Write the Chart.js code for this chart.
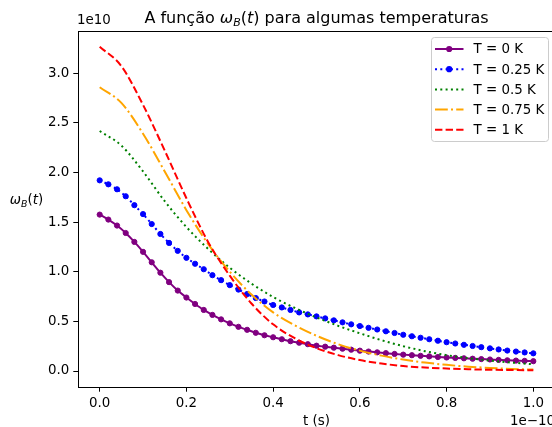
<!DOCTYPE html>
<html>
<head>
<meta charset="utf-8">
<script src="https://cdn.jsdelivr.net/npm/chart.js@4/dist/chart.umd.min.js"></script>
<style>
  html, body { margin: 0; padding: 0; background: #fff; overflow: hidden; }
  #wrap { width: 552px; height: 427px; overflow: hidden; position: relative; }
  canvas { position: absolute; left: 0; top: 0; }
</style>
</head>
<body>
<div id="wrap"><canvas id="chart" width="560" height="427"></canvas></div>
<script>
// --- data (t in units of 1e-10 s, omega in units of 1e10) ---
const tFine = [0, 0.02, 0.04, 0.06, 0.08, 0.10, 0.12, 0.14, 0.16, 0.18,
  0.20, 0.22, 0.24, 0.26, 0.28, 0.30, 0.32, 0.34, 0.36, 0.38,
  0.40, 0.42, 0.44, 0.46, 0.48, 0.50, 0.52, 0.54, 0.56, 0.58,
  0.60, 0.62, 0.64, 0.66, 0.68, 0.70, 0.72, 0.74, 0.76, 0.78,
  0.80, 0.82, 0.84, 0.86, 0.88, 0.90, 0.92, 0.94, 0.96, 0.98, 1.00];
const tCoarse = [0, 0.05, 0.10, 0.15, 0.20, 0.25, 0.30, 0.35, 0.40, 0.45, 0.50,
  0.55, 0.60, 0.65, 0.70, 0.75, 0.80, 0.85, 0.90, 0.95, 1.00];

const omegaT0 = [1.575, 1.525, 1.465, 1.39, 1.30, 1.20, 1.095, 0.99, 0.895, 0.81,
  0.74, 0.675, 0.615, 0.565, 0.52, 0.48, 0.445, 0.415, 0.385, 0.36,
  0.34, 0.32, 0.30, 0.285, 0.27, 0.255, 0.245, 0.235, 0.225, 0.215,
  0.205, 0.196, 0.188, 0.18, 0.172, 0.165, 0.159, 0.153, 0.147, 0.141,
  0.136, 0.132, 0.128, 0.124, 0.12, 0.116, 0.112, 0.108, 0.105, 0.102, 0.099];
const omegaT025 = [1.92, 1.88, 1.83, 1.76, 1.67, 1.58, 1.48, 1.38, 1.29, 1.21,
  1.14, 1.08, 1.025, 0.965, 0.915, 0.865, 0.82, 0.775, 0.735, 0.70,
  0.665, 0.64, 0.615, 0.59, 0.57, 0.55, 0.53, 0.51, 0.49, 0.47,
  0.453, 0.435, 0.418, 0.40, 0.383, 0.365, 0.35, 0.335, 0.32, 0.305,
  0.29, 0.277, 0.264, 0.252, 0.24, 0.228, 0.217, 0.206, 0.196, 0.187, 0.178];
const omegaT05 = [2.417, 2.27, 2.01, 1.71, 1.45, 1.23, 1.04, 0.88, 0.745, 0.635, 0.54,
  0.455, 0.38, 0.31, 0.25, 0.20, 0.16, 0.13, 0.105, 0.085, 0.068];
const omegaT075 = [2.857, 2.70, 2.39, 2.01, 1.62, 1.28, 1.00, 0.77, 0.59, 0.46, 0.355,
  0.27, 0.205, 0.155, 0.115, 0.085, 0.062, 0.044, 0.031, 0.021, 0.014];
const omegaT1 = [3.266, 3.07, 2.68, 2.22, 1.74, 1.30, 0.96, 0.68, 0.47, 0.33, 0.23,
  0.16, 0.11, 0.075, 0.05, 0.035, 0.025, 0.018, 0.013, 0.01, 0.008];

const seriesLabels = ['T = 0 K', 'T = 0.25 K', 'T = 0.5 K', 'T = 0.75 K', 'T = 1 K'];
const xTicks = [0, 0.2, 0.4, 0.6, 0.8, 1.0];
const yTicks = [0, 0.5, 1.0, 1.5, 2.0, 2.5, 3.0];

const FONT = '"DejaVu Sans", sans-serif';
const LW = 2;

function pts(xs, ys) { return xs.map((x, i) => ({ x: x, y: ys[i] })); }

const datasets = [
  { label: seriesLabels[0], data: pts(tFine, omegaT0), borderColor: 'purple',
    borderDash: [], pointRadius: 2.6, order: 4 },
  { label: seriesLabels[1], data: pts(tFine, omegaT025), borderColor: 'blue',
    borderDash: [2, 3.3], pointRadius: 2.6, order: 3 },
  { label: seriesLabels[2], data: pts(tCoarse, omegaT05), borderColor: 'green',
    borderDash: [2, 3.3], pointRadius: 0, order: 2 },
  { label: seriesLabels[3], data: pts(tCoarse, omegaT075), borderColor: 'orange',
    borderDash: [12.8, 3.2, 2, 3.2], pointRadius: 0, order: 1 },
  { label: seriesLabels[4], data: pts(tCoarse, omegaT1), borderColor: 'red',
    borderDash: [7.4, 3.2], pointRadius: 0, order: 0 }
];
datasets.forEach(d => {
  d.borderWidth = LW;
  d.backgroundColor = d.borderColor;
  d.pointBorderWidth = 1;
  d.pointBorderColor = d.borderColor;
  d.pointBackgroundColor = d.borderColor;
  d.cubicInterpolationMode = 'monotone';
  d.fill = false;
});

// draw a run of text pieces (for the mathtext bits)
function richText(ctx, parts, x, y, align) {
  let w = 0;
  parts.forEach(p => { ctx.font = p.font; w += ctx.measureText(p.text).width; });
  let cx = align === 'center' ? x - w / 2 : (align === 'right' ? x - w : x);
  parts.forEach(p => {
    ctx.font = p.font;
    ctx.fillText(p.text, cx, y + (p.dy || 0));
    cx += ctx.measureText(p.text).width;
  });
}

const decor = {
  id: 'decor',
  afterDraw(chart) {
    const ctx = chart.ctx, a = chart.chartArea;
    ctx.save();
    // axes frame
    ctx.strokeStyle = '#000';
    ctx.lineWidth = 1;
    ctx.setLineDash([]);
    ctx.strokeRect(a.left + 0.5, a.top + 0.5, a.right - a.left, a.bottom - a.top);

    ctx.fillStyle = '#000';
    ctx.textBaseline = 'alphabetic';
    // title
    const f16 = '16px ' + FONT, i16 = 'italic 16px ' + FONT, i11 = 'italic 11px ' + FONT;
    richText(ctx, [
      { text: 'A função ', font: f16 },
      { text: 'ω', font: i16 },
      { text: 'B', font: i11, dy: 3 },
      { text: '(', font: f16 },
      { text: 't', font: i16 },
      { text: ') para algumas temperaturas', font: f16 }
    ], (a.left + a.right) / 2, 23, 'center');

    // y label (horizontal)
    const f13 = '13.4px ' + FONT, i13 = 'italic 13.4px ' + FONT, i9 = 'italic 9.4px ' + FONT;
    richText(ctx, [
      { text: 'ω', font: i13 },
      { text: 'B', font: i9, dy: 3 },
      { text: '(', font: f13 },
      { text: 't', font: i13 },
      { text: ')', font: f13 }
    ], 26.5, 204, 'center');

    // x label and offset texts
    ctx.font = f13;
    ctx.textAlign = 'center';
    ctx.fillText('t (s)', (a.left + a.right) / 2, 425);
    ctx.textAlign = 'left';
    ctx.fillText('1e10', a.left - 1, 24);
    ctx.textAlign = 'right';
    ctx.fillText('1e\u221210', a.right, 425);

    // legend
    const lx = 431.5, ly = 37.5, lw = 117, lh = 104;
    ctx.beginPath();
    ctx.roundRect(lx, ly, lw, lh, 3);
    ctx.fillStyle = 'rgba(255,255,255,0.8)';
    ctx.fill();
    ctx.strokeStyle = '#cccccc';
    ctx.lineWidth = 1;
    ctx.stroke();
    ctx.textAlign = 'left';
    ctx.textBaseline = 'middle';
    chart.data.datasets.forEach((d, i) => {
      const yy = 49 + i * 20.2;
      ctx.strokeStyle = d.borderColor;
      ctx.lineWidth = LW;
      ctx.setLineDash(d.borderDash);
      ctx.beginPath();
      ctx.moveTo(435, yy);
      ctx.lineTo(463.5, yy);
      ctx.stroke();
      ctx.setLineDash([]);
      if (d.pointRadius > 0) {
        ctx.beginPath();
        ctx.arc(449.2, yy, d.pointRadius + 0.5, 0, Math.PI * 2);
        ctx.fillStyle = d.borderColor;
        ctx.fill();
      }
      ctx.fillStyle = '#000';
      ctx.font = f13;
      ctx.fillText(d.label, 473.5, yy + 1);
    });
    ctx.restore();
  }
};

new Chart(document.getElementById('chart'), {
  type: 'line',
  data: { datasets: datasets },
  options: {
    responsive: false,
    animation: false,
    devicePixelRatio: 1,
    layout: { padding: { top: 31, right: 4, left: 0, bottom: 0 } },
    plugins: { legend: { display: false }, title: { display: false }, tooltip: { enabled: false } },
    scales: {
      x: {
        type: 'linear',
        min: -0.05, max: 1.05,
        afterFit: s => { s.height = 40; },
        afterBuildTicks: s => { s.ticks = xTicks.map(v => ({ value: v })); },
        grid: { drawOnChartArea: false, drawTicks: true, tickLength: 4.7, color: '#000', lineWidth: 1 },
        border: { display: false },
        ticks: { padding: 3.5, color: '#000', font: { family: FONT, size: 13.4 },
          maxRotation: 0, autoSkip: false, callback: v => v.toFixed(1) }
      },
      y: {
        type: 'linear',
        min: -0.161, max: 3.424,
        afterFit: s => { s.width = 78; },
        afterBuildTicks: s => { s.ticks = yTicks.map(v => ({ value: v })); },
        grid: { drawOnChartArea: false, drawTicks: true, tickLength: 4.7, color: '#000', lineWidth: 1 },
        border: { display: false },
        ticks: { padding: 4, color: '#000', font: { family: FONT, size: 13.4 },
          autoSkip: false, callback: v => v.toFixed(1) }
      }
    }
  },
  plugins: [decor]
});
</script>
</body>
</html>
